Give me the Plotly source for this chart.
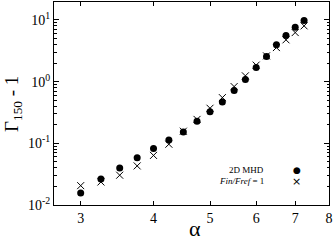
import numpy as np
import plotly.graph_objects as go

alpha = [3.0, 3.25, 3.5, 3.75, 4.0, 4.25, 4.5, 4.75, 5.0, 5.25, 5.5, 5.75, 6.0, 6.25, 6.5, 6.75, 7.0, 7.25]
mhd = [0.0157, 0.0264, 0.0399, 0.0585, 0.082, 0.1135, 0.153, 0.228, 0.326, 0.469, 0.715, 1.08, 1.69, 2.54, 3.94, 5.57, 7.62, 9.75]
ratio1 = [0.0206, 0.0236, 0.0304, 0.043, 0.0636, 0.0966, 0.157, 0.244, 0.37, 0.55, 0.83, 1.24, 1.85, 2.61, 3.56, 4.75, 6.23, 8.0]

x_ticks = [3, 4, 5, 6, 7, 8]
y_ticks = [0.01, 0.1, 1, 10]
y_ticktext = ["10<sup>-2</sup>", "10<sup>-1</sup>", "10<sup>0</sup>", "10<sup>1</sup>"]
y_minor = [m * 10.0 ** e for e in range(-2, 2) for m in range(2, 10)]

font = "Liberation Serif, Times New Roman, serif"

L, R, T, B = 54, 7, 2, 36
W, H = 336, 241
PW, PH = W - L - R, H - T - B


def px(x):
    return (x - L) / PW


def py(y):
    return (H - B - y) / PH


fig = go.Figure()
fig.add_trace(go.Scatter(x=alpha, y=mhd, mode="markers", name="2D MHD",
                         marker=dict(symbol="circle", size=7, color="black")))
fig.add_trace(go.Scatter(x=alpha, y=ratio1, mode="markers", name="Fin/Fref = 1",
                         marker=dict(symbol="x-thin-open", size=7,
                                     line=dict(color="black", width=1), color="black")))

fig.update_layout(
    width=W, height=H,
    margin=dict(l=L, r=R, t=T, b=B, autoexpand=False),
    paper_bgcolor="white", plot_bgcolor="white",
    showlegend=False,
    font=dict(family=font, color="black", size=13),
    xaxis=dict(type="log", range=[np.log10(2.7), np.log10(8.0)], automargin=False,
               tickmode="array", tickvals=x_ticks, ticktext=[str(v) for v in x_ticks],
               ticks="inside", ticklen=4, tickcolor="black",
               showline=True, linecolor="black", linewidth=1, mirror="ticks",
               showgrid=False, zeroline=False,
               tickfont=dict(size=14, family=font)),
    yaxis=dict(type="log", range=[-2, 1.29], automargin=False,
               tickmode="array", tickvals=y_ticks, ticktext=y_ticktext,
               ticks="inside", ticklen=5, tickcolor="black",
               minor=dict(tickmode="array", tickvals=y_minor, ticks="inside",
                          ticklen=2.5, tickcolor="black", showgrid=False),
               showline=True, linecolor="black", linewidth=1, mirror="ticks",
               showgrid=False, zeroline=False,
               tickfont=dict(size=14, family=font)),
)

# axis titles
fig.add_annotation(xref="paper", yref="paper", x=px(195), y=py(228),
                   text="α", showarrow=False, xanchor="center", yanchor="middle",
                   font=dict(size=22, family=font, color="black"))
fig.add_annotation(xref="paper", yref="paper", x=px(13), y=py(104),
                   text="Γ<sub>150</sub> - 1", showarrow=False, textangle=-90,
                   xanchor="center", yanchor="middle",
                   font=dict(size=19, family=font, color="black"))

leg_font = dict(family=font, size=9, color="black")
fig.add_annotation(xref="paper", yref="paper", x=px(266), y=py(170.3),
                   text="2D MHD", showarrow=False, xanchor="right", yanchor="middle", font=leg_font)
fig.add_annotation(xref="paper", yref="paper", x=px(266), y=py(181),
                   text="<i>Fin/Fref</i> = 1", showarrow=False, xanchor="right", yanchor="middle", font=leg_font)
fig.add_annotation(xref="paper", yref="paper", x=px(296.5), y=py(170.3),
                   text="●", showarrow=False, xanchor="center", yanchor="middle",
                   font=dict(family="DejaVu Sans", size=9, color="black"))
fig.add_annotation(xref="paper", yref="paper", x=px(296.5), y=py(181),
                   text="×", showarrow=False, xanchor="center", yanchor="middle",
                   font=dict(family="DejaVu Sans", size=11, color="black"))

fig.write_html("out.html", config={"displayModeBar": False},
               post_script="document.body.style.margin='0';document.body.style.padding='0';")
